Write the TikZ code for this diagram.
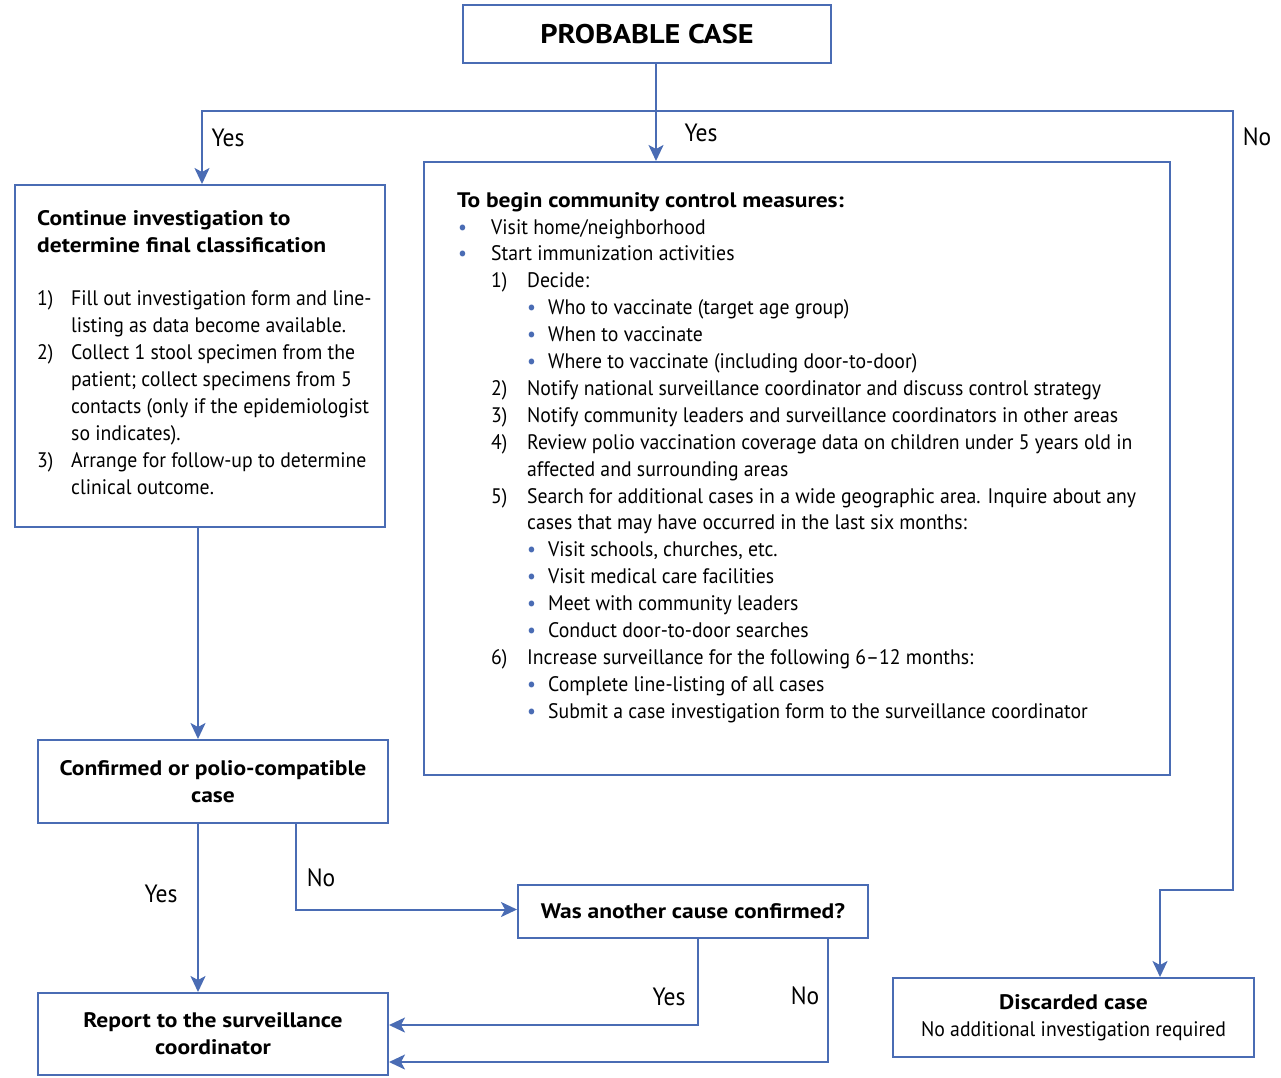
\documentclass[tikz,border=0pt]{standalone}
\usepackage{fontspec}
\setmainfont{PT Sans}[FakeStretch=0.94, BoldFeatures={FakeStretch=1.12}]
\usetikzlibrary{arrows.meta,calc}
\definecolor{flowblue}{RGB}{74,108,180}
\newcommand{\bul}{\makebox[34pt][l]{\hspace*{1pt}\textcolor{flowblue}{\textbullet}}}
\newcommand{\sbul}{\hspace*{70pt}\makebox[21pt][l]{\textcolor{flowblue}{\textbullet}}}
\newcommand{\numi}[1]{\hspace*{34pt}\makebox[36pt][l]{#1}}
\newcommand{\cont}{\hspace*{70pt}}
\newcommand{\lnum}[1]{\makebox[34pt][l]{#1}}
\begin{document}
\begin{tikzpicture}[x=1pt,y=-1pt,
  box/.style={draw=flowblue, line width=2pt, inner sep=0pt, align=center},
  body/.style={font=\fontsize{21}{26.9}\selectfont},
  lbl/.style={font=\fontsize{25}{28}\selectfont},
  arrow/.style={draw=flowblue, line width=2pt, -{Stealth[length=16pt,width=15pt,inset=4pt]}}]
\useasboundingbox (0,0) rectangle (1281,1077);

\node[box, minimum width=368, minimum height=58, font=\fontsize{27}{30}\selectfont\bfseries] (prob) at (647,34) {PROBABLE CASE};
\node[box, minimum width=370, minimum height=342] (contbox) at (200,356) {};
\node[box, minimum width=746, minimum height=613] (measures) at (797,468.5) {};
\node[box, minimum width=350, minimum height=83, body] (conf) at (213,781.5) {\bfseries Confirmed or polio-compatible\\\bfseries case};
\node[box, minimum width=350, minimum height=82, body] (report) at (213,1034) {\bfseries Report to the surveillance\\\bfseries coordinator};
\node[box, minimum width=350, minimum height=53, body] (was) at (693,911.5) {\bfseries Was another cause confirmed?};
\node[box, minimum width=361, minimum height=79, body] (disc) at (1073.5,1017.5) {\bfseries Discarded case\\No additional investigation required};

% box texts
\node[body, anchor=north west, inner sep=0pt, align=left] (conttext) at (37,210) {%
\bfseries Continue investigation to\\
\bfseries determine final classification\\[26.9pt]
\lnum{1)}Fill out investigation form and line-\\
\lnum{}listing as data become available.\\
\lnum{2)}Collect 1 stool specimen from the\\
\lnum{}patient; collect specimens from 5\\
\lnum{}contacts (only if the epidemiologist\\
\lnum{}so indicates).\\
\lnum{3)}Arrange for follow-up to determine\\
\lnum{}clinical outcome.};
\node[body, anchor=north west, inner sep=0pt, align=left] (meastext) at (457,192) {%
\bfseries To begin community control measures:\\
\bul Visit home/neighborhood\\
\bul Start immunization activities\\
\numi{1)}Decide:\\
\sbul Who to vaccinate (target age group)\\
\sbul When to vaccinate\\
\sbul Where to vaccinate (including door-to-door)\\
\numi{2)}Notify national surveillance coordinator and discuss control strategy\\
\numi{3)}Notify community leaders and surveillance coordinators in other areas\\
\numi{4)}Review polio vaccination coverage data on children under 5 years old in\\
\cont affected and surrounding areas\\
\numi{5)}Search for additional cases in a wide geographic area. Inquire about any\\
\cont cases that may have occurred in the last six months:\\
\sbul Visit schools, churches, etc.\\
\sbul Visit medical care facilities\\
\sbul Meet with community leaders\\
\sbul Conduct door-to-door searches\\
\numi{6)}Increase surveillance for the following 6--12 months:\\
\sbul Complete line-listing of all cases\\
\sbul Submit a case investigation form to the surveillance coordinator};

% connectors
\coordinate (split) at (656,111);
\coordinate (rturn) at (1233,890);
\coordinate (discin) at ([xshift=86.5]disc.north);
\draw[draw=flowblue, line width=2pt] (split |- prob.south) -- (split);
\draw[arrow] (split) -- (split |- measures.north);
\draw[arrow] (split) -| ([xshift=2]contbox.north);
\draw[arrow] (split) -| (rturn) -| (discin);
\draw[arrow] ([xshift=-2]contbox.south) -- ([xshift=-2]contbox.south |- conf.north);
\draw[arrow] ([xshift=-15]conf.south) -- ([xshift=-15]report.north);
\draw[arrow] ([xshift=83]conf.south) |- ([yshift=2]was.west);
\draw[arrow] ([xshift=5]was.south) |- ([yshift=9]report.east);
\draw[arrow] ([xshift=135]was.south) |- ([yshift=-28]report.east);

% labels
\node[lbl] (yesleft) at (228,138) {Yes};
\node[lbl] (yesmid) at (701,133) {Yes};
\node[lbl] (noright) at (1257,137) {No};
\node[lbl] (yesconf) at (161,894) {Yes};
\node[lbl] (noconf) at (321,878) {No};
\node[lbl] (yeswas) at (669,997) {Yes};
\node[lbl] (nowas) at (805,996) {No};
\end{tikzpicture}
\end{document}
